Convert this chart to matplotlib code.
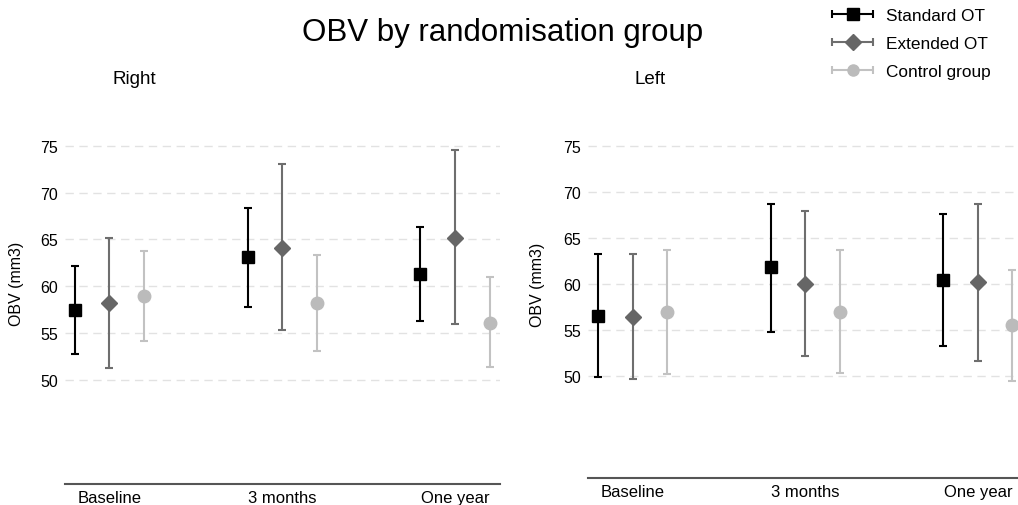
import matplotlib
matplotlib.use("Agg")
import matplotlib.pyplot as plt
from matplotlib.legend_handler import HandlerErrorbar
import numpy as np

plt.rcParams["font.family"] = ["Liberation Sans", "DejaVu Sans"]

timepoints = ["Baseline", "3 months", "One year"]
groups = ["Standard OT", "Extended OT", "Control group"]

# Right eye: mean, lower CI, upper CI per group (rows) and timepoint (cols)
right_mean = [[57.5, 63.1, 61.3], [58.2, 64.1, 65.2], [59.0, 58.2, 56.1]]
right_lo = [[52.8, 57.8, 56.3], [51.3, 55.3, 56.0], [54.2, 53.1, 51.4]]
right_hi = [[62.2, 68.4, 66.3], [65.2, 73.1, 74.5], [63.8, 63.3, 61.0]]

# Left eye
left_mean = [[56.5, 61.8, 60.4], [56.4, 60.0, 60.2], [57.0, 57.0, 55.5]]
left_lo = [[49.9, 54.8, 53.3], [49.7, 52.2, 51.6], [50.2, 50.3, 49.4]]
left_hi = [[63.3, 68.7, 67.6], [63.3, 67.9, 68.7], [63.7, 63.7, 61.5]]

markers = ["s", "D", "o"]
mcolors = ["#000000", "#666666", "#bbbbbb"]
ecolors = ["#000000", "#6e6e6e", "#c2c2c2"]
offsets = [-0.2, 0.0, 0.2]
yticks = [50, 55, 60, 65, 70, 75]

fig = plt.figure(figsize=(10.18, 5.06), dpi=100)


def panel(rect, mean, lo, hi, ylim, xlim, title_x, title):
    ax = fig.add_axes(rect)
    x = np.arange(1, len(timepoints) + 1)
    for g in range(len(groups)):
        m = np.array(mean[g]); l = np.array(lo[g]); h = np.array(hi[g])
        ax.errorbar(x + offsets[g], m, yerr=[m - l, h - m], fmt="none",
                    ecolor=ecolors[g], elinewidth=1.5, capsize=3, capthick=1.5,
                    zorder=2)
        ax.plot(x + offsets[g], m, linestyle="none", marker=markers[g],
                color=mcolors[g], markersize=9 if markers[g] != "D" else 8.5,
                zorder=3, clip_on=False)
    for yv in yticks:
        ax.axhline(yv, color="#e2e2e2", lw=1.0, ls=(0, (6, 4)), zorder=1)
    ax.set_ylim(*ylim)
    ax.set_xlim(*xlim)
    ax.set_yticks(yticks)
    ax.set_xticks(x)
    ax.set_xticklabels(timepoints, fontsize=12)
    ax.tick_params(axis="y", length=0, labelsize=11.5, pad=5)
    ax.tick_params(axis="x", length=0, pad=4)
    ax.set_ylabel("OBV (mm3)", fontsize=11.5, labelpad=2)
    ax.yaxis.set_label_coords(-0.095, 0.5)
    for s in ["top", "right", "left"]:
        ax.spines[s].set_visible(False)
    ax.spines["bottom"].set_color("#555555")
    ax.spines["bottom"].set_linewidth(1.5)
    ax.set_facecolor("none")
    fig.text(title_x, 0.842, title, fontsize=13.5, ha="left", va="center")
    return ax


ax1 = panel([0.0639, 0.0415, 0.4273, 0.7945], right_mean, right_lo, right_hi,
            (38.9, 81.8), (0.745, 3.26), 112 / 1018, "Right")
ax2 = panel([0.5776, 0.0534, 0.4224, 0.7668], left_mean, left_lo, left_hi,
            (38.9, 81.1), (0.74, 3.232), 634 / 1018, "Left")
ax2.yaxis.set_label_coords(-0.1, 0.5)

fig.text(0.494, 0.935, "OBV by randomisation group", fontsize=22.5,
         ha="center", va="center")

# legend: horizontal bars with caps through the marker (proxy drawn off-view)
handles = []
for g in range(len(groups)):
    h = ax1.errorbar([-10], [60], xerr=[1], fmt=markers[g], color=mcolors[g],
                     ecolor=ecolors[g], markersize=8, capsize=3, elinewidth=1.5,
                     capthick=1.5)
    handles.append(h)
ax1.set_xlim(0.745, 3.26)
fig.legend(handles, groups, loc="upper right", bbox_to_anchor=(0.988, 1.012),
           frameon=False, fontsize=12.4, handlelength=2.4, labelspacing=0.75,
           handletextpad=0.7,
           handler_map={type(handles[0]): HandlerErrorbar(xerr_size=1.2)})

fig.savefig("out.png", dpi=100)
